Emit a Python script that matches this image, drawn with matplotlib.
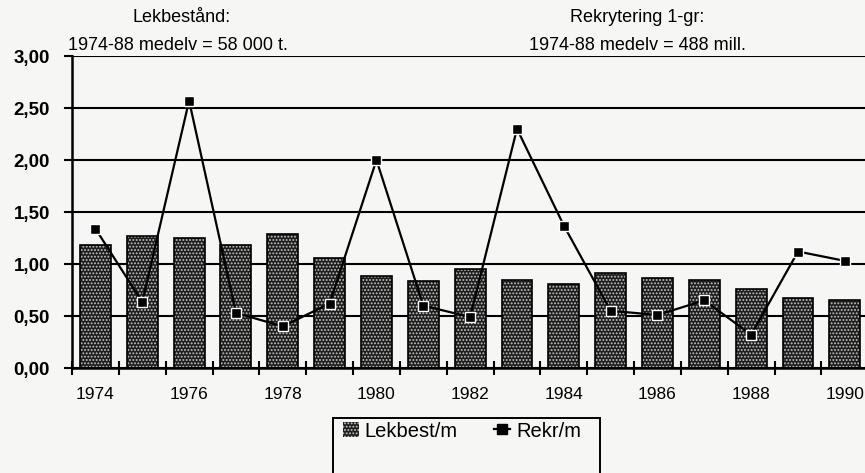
import matplotlib.pyplot as plt
from matplotlib.patches import Rectangle
from matplotlib.lines import Line2D

years = list(range(1974, 1991))
lekbest = [1.18, 1.27, 1.25, 1.18, 1.29, 1.06, 0.88, 0.84, 0.95,
           0.85, 0.81, 0.91, 0.87, 0.85, 0.76, 0.67, 0.65]
rekr = [1.34, 0.635, 2.57, 0.53, 0.40, 0.62, 2.00, 0.60, 0.49,
        2.30, 1.37, 0.55, 0.51, 0.65, 0.32, 1.12, 1.03]
yticks = [0, 0.5, 1.0, 1.5, 2.0, 2.5, 3.0]
ytick_labels = ["0,00", "0,50", "1,00", "1,50", "2,00", "2,50", "3,00"]
xlabels = [1974, 1976, 1978, 1980, 1982, 1984, 1986, 1988, 1990]

plt.rcParams['font.family'] = ['Liberation Sans', 'DejaVu Sans']
plt.rcParams['hatch.linewidth'] = 0.9
bg = '#f6f6f4'
bar_dark = '#1e1e1e'
dot_col = '#c4c4c4'

fig = plt.figure(figsize=(8.65, 4.73), dpi=100, facecolor=bg)
ax = fig.add_axes([72 / 865, 105 / 473, 793 / 865, 312 / 473])
ax.set_facecolor(bg)

# stippled bars: dark fill with light dots, then black outline
ax.bar(years, lekbest, width=0.66, color=bar_dark, edgecolor=dot_col,
       hatch='.....', linewidth=0, zorder=2)
ax.bar(years, lekbest, width=0.66, fill=False, edgecolor='black',
       linewidth=1.2, zorder=3)

ax.plot(years, rekr, color='black', linewidth=1.6, marker='s', markersize=7,
        markerfacecolor='black', markeredgecolor='white', markeredgewidth=1.0,
        zorder=4, clip_on=False)

ax.set_xlim(1973.5, 1990.43)
ax.set_ylim(0, 3)

for v in yticks:
    ax.axhline(v, color='black', linewidth=1.5, zorder=1)
    ax.plot([-0.009, 0], [v, v], transform=ax.get_yaxis_transform(),
            color='black', linewidth=1.5, clip_on=False)

ax.set_yticks(yticks)
ax.set_yticklabels(ytick_labels, fontsize=13.5, fontweight='bold')
ax.tick_params(axis='y', length=0, pad=16)

ax.set_xticks(xlabels)
ax.set_xticklabels([str(x) for x in xlabels], fontsize=12.5)
ax.tick_params(axis='x', length=0, pad=14)
ax.set_xticks([y - 0.5 for y in years], minor=True)
ax.tick_params(axis='x', which='minor', direction='inout', length=10, width=1.5)

for s in ['top', 'right']:
    ax.spines[s].set_visible(False)
ax.spines['left'].set_linewidth(1.8)
ax.spines['bottom'].set_linewidth(1.8)

fig.text(182 / 865, 1 - 18 / 473, "Lekbestånd:", ha='center', va='center', fontsize=13)
fig.text(178 / 865, 1 - 45 / 473, "1974-88 medelv = 58 000 t.", ha='center', va='center', fontsize=13)
fig.text(637 / 865, 1 - 18 / 473, "Rekrytering 1-gr:", ha='center', va='center', fontsize=13)
fig.text(637 / 865, 1 - 45 / 473, "1974-88 medelv = 488 mill.", ha='center', va='center', fontsize=13)

# legend box, cut off at the bottom like the scan
fig.patches.append(Rectangle((333 / 865, -0.05), 267 / 865, 0.05 + (473 - 418) / 473,
                             transform=fig.transFigure, fill=False,
                             edgecolor='black', linewidth=1.4))
handles = [Rectangle((0, 0), 1, 1, facecolor=bar_dark, edgecolor=dot_col, hatch='.....', linewidth=0),
           Line2D([], [], color='black', linewidth=1.6, marker='s', markersize=7,
                  markerfacecolor='black', markeredgecolor='black')]
fig.legend(handles, ["Lekbest/m", "Rekr/m"], loc='center', ncol=2,
           bbox_to_anchor=(462 / 865, 1 - 431 / 473), frameon=False,
           fontsize=14.5, handlelength=0.8, handleheight=0.8, handletextpad=0.3,
           columnspacing=1.8)

fig.savefig("out.png", dpi=100, facecolor=bg)
